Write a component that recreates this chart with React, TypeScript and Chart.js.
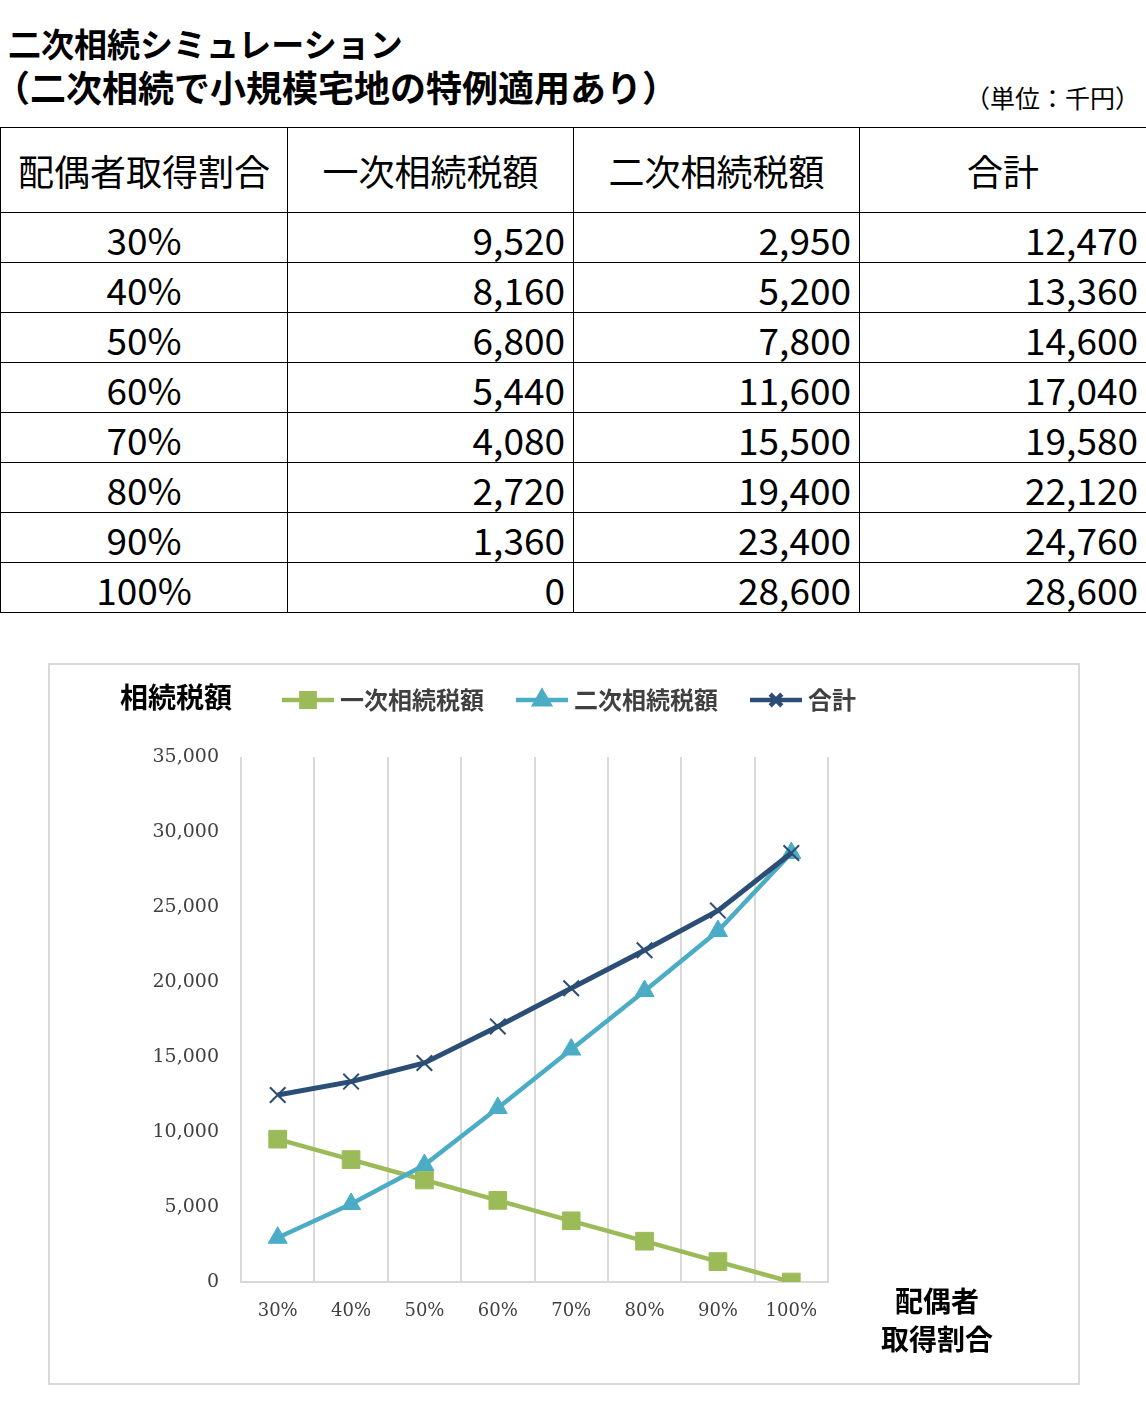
import React, { useEffect, useRef } from "react";
import { Chart, registerables } from "chart.js";
import { drawPoint } from "chart.js/helpers";

Chart.register(...registerables);

// 配偶者取得割合
const ratios = ["30%", "40%", "50%", "60%", "70%", "80%", "90%", "100%"];
// 一次相続税額 (千円)
const firstTax = [9520, 8160, 6800, 5440, 4080, 2720, 1360, 0];
// 二次相続税額 (千円)
const secondTax = [2950, 5200, 7800, 11600, 15500, 19400, 23400, 28600];
// 合計 (千円)
const totalTax = [12470, 13360, 14600, 17040, 19580, 22120, 24760, 28600];

const headers = ["配偶者取得割合", "一次相続税額", "二次相続税額", "合計"];
const seriesNames = ["一次相続税額", "二次相続税額", "合計"];
const seriesColors = ["#9bbb59", "#4bacc6", "#2c4d75"];
const yTicks = [0, 5000, 10000, 15000, 20000, 25000, 30000, 35000];

const JP = '"Noto Sans CJK JP", "Noto Sans", sans-serif';
const fmt = (v: number) => v.toLocaleString("en-US");

// draws the legend row and the axis captions, like the Excel chart
const captions = {
  id: "captions",
  afterDraw(chart: any) {
    const ctx: CanvasRenderingContext2D = chart.ctx;
    ctx.save();
    ctx.textBaseline = "middle";

    ctx.fillStyle = "#000";
    ctx.font = `bold 28px ${JP}`;
    ctx.textAlign = "left";
    ctx.fillText("相続税額", 70, 32);

    ctx.font = `bold 24px ${JP}`;
    let x = 232;
    const y = 35;
    chart.data.datasets.forEach((ds: any) => {
      ctx.strokeStyle = ds.borderColor;
      ctx.fillStyle = ds.backgroundColor;
      ctx.lineWidth = 4.5;
      ctx.beginPath();
      ctx.moveTo(x, y);
      ctx.lineTo(x + 52, y);
      ctx.stroke();
      drawPoint(ctx, { pointStyle: ds.pointStyle, radius: ds.pointRadius * 0.75, rotation: 0, borderWidth: ds.pointBorderWidth }, x + 26, y);
      ctx.fillStyle = "#404040";
      ctx.fillText(ds.label, x + 58, y);
      x += 58 + ctx.measureText(ds.label).width + 32;
    });

    ctx.fillStyle = "#000";
    ctx.font = `bold 28px ${JP}`;
    ctx.textAlign = "center";
    ctx.fillText("配偶者", 887, 636);
    ctx.fillText("取得割合", 887, 674);
    ctx.restore();
  },
};

function TaxChart() {
  const canvasRef = useRef<HTMLCanvasElement | null>(null);

  useEffect(() => {
    if (!canvasRef.current) return;
    const styles = [
      { pointStyle: "rect", pointRadius: 12.5, pointBorderWidth: 1, borderWidth: 4.5, order: 3 },
      { pointStyle: "triangle", pointRadius: 11, pointBorderWidth: 1, borderWidth: 4.5, order: 2 },
      { pointStyle: "crossRot", pointRadius: 11, pointBorderWidth: 2, borderWidth: 5, order: 1 },
    ];
    const values = [firstTax, secondTax, totalTax];

    const chart = new Chart(canvasRef.current, {
      type: "line",
      data: {
        labels: ratios,
        datasets: values.map((v, i) => ({
          label: seriesNames[i],
          data: v,
          borderColor: seriesColors[i],
          backgroundColor: seriesColors[i],
          pointBackgroundColor: seriesColors[i],
          pointBorderColor: seriesColors[i],
          tension: 0,
          ...styles[i],
        })) as any,
      },
      options: {
        animation: false,
        responsive: true,
        maintainAspectRatio: false,
        layout: { padding: { top: 92, left: 91, right: 250, bottom: 0 } },
        plugins: { legend: { display: false }, tooltip: { enabled: false } },
        scales: {
          x: {
            offset: true,
            grid: { offset: true, color: "#d9d9d9", lineWidth: 2, drawTicks: false },
            border: { display: true, color: "#d9d9d9", width: 2 },
            ticks: { color: "#404040", padding: 19, font: { family: '"DejaVu Serif", serif', size: 18 } },
            afterFit: (s: any) => {
              s.height = 101;
            },
          },
          y: {
            min: 0,
            max: 35000,
            afterBuildTicks: (s: any) => {
              s.ticks = yTicks.map((value) => ({ value }));
            },
            grid: { display: false },
            border: { display: false },
            ticks: {
              color: "#404040",
              padding: 14,
              font: { family: '"DejaVu Serif", serif', size: 19 },
              callback: (v: any) => fmt(Number(v)),
            },
            afterFit: (s: any) => {
              s.width = 100;
            },
          },
        },
      },
      plugins: [captions],
    });

    return () => chart.destroy();
  }, []);

  return (
    <div style={{ width: 1028, height: 718, position: "relative" }}>
      <canvas ref={canvasRef} />
    </div>
  );
}

export default function App() {
  const rows = ratios.map((r, i) => [r, fmt(firstTax[i]), fmt(secondTax[i]), fmt(totalTax[i])]);
  const cell: React.CSSProperties = {
    border: "1px solid #000",
    padding: "4px 8px 0",
    fontSize: 37,
    lineHeight: "1",
    height: 45,
    whiteSpace: "nowrap",
  };

  return (
    <div style={{ position: "absolute", left: 0, top: 0, width: 1146, height: 1407, background: "#fff", fontFamily: JP, color: "#000" }}>
      <div style={{ position: "absolute", left: 8, top: 23, fontSize: 33, fontWeight: "bold", lineHeight: "40px", whiteSpace: "nowrap" }}>
        二次相続シミュレーション
      </div>
      <div style={{ position: "absolute", left: -6, top: 65, fontSize: 36, fontWeight: "bold", lineHeight: "42px", whiteSpace: "nowrap" }}>
        （二次相続で小規模宅地の特例適用あり）
      </div>
      <div style={{ position: "absolute", right: 6, top: 82, fontSize: 25, lineHeight: "30px", whiteSpace: "nowrap" }}>
        （単位：千円）
      </div>

      <table style={{ position: "absolute", left: 0, top: 127, width: 1146, borderCollapse: "collapse", tableLayout: "fixed" }}>
        <colgroup>
          <col style={{ width: 287 }} />
          <col style={{ width: 286 }} />
          <col style={{ width: 286 }} />
          <col style={{ width: 287 }} />
        </colgroup>
        <thead>
          <tr>
            {headers.map((h) => (
              <th key={h} style={{ ...cell, padding: "0 8px", height: 84, fontSize: 36, fontWeight: "normal", textAlign: "center" }}>
                {h}
              </th>
            ))}
          </tr>
        </thead>
        <tbody>
          {rows.map((row) => (
            <tr key={row[0]}>
              {row.map((v, j) => (
                <td key={j} style={{ ...cell, textAlign: j === 0 ? "center" : "right" }}>
                  {v}
                </td>
              ))}
            </tr>
          ))}
        </tbody>
      </table>

      <div style={{ position: "absolute", left: 48, top: 663, width: 1032, height: 722, border: "2px solid #d9d9d9", boxSizing: "border-box" }}>
        <TaxChart />
      </div>
    </div>
  );
}
